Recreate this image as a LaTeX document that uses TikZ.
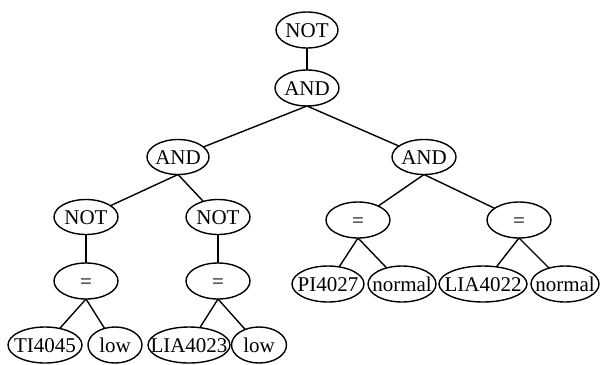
\documentclass[tikz,border=0pt]{standalone}
\usepackage{fontspec}
\setmainfont{Liberation Serif}
\usetikzlibrary{shapes.geometric}
% centre a label without letting it size the oval
\newcommand\ovaltext[1]{\makebox[0pt]{#1}}
\begin{document}
\begin{tikzpicture}[x=1pt,y=-1pt,
  oval/.style={draw, ellipse, line width=1.4pt, inner sep=0pt, outer sep=0pt,
    text height=14pt, text depth=0pt, minimum height=36pt,
    font=\fontsize{21}{21}\selectfont},
  link/.style={line width=1.4pt}]
\useasboundingbox (0,0) rectangle (601,364);

% operators
\node[oval, minimum width=62] (not0) at (307,30)  {\ovaltext{NOT}};
\node[oval, minimum width=64] (and0) at (307,88)  {\ovaltext{AND}};
\node[oval, minimum width=62, minimum height=35] (andL) at (178,157) {\ovaltext{AND}};
\node[oval, minimum width=64, minimum height=35] (andR) at (424,157) {\ovaltext{AND}};
\node[oval, minimum width=64, minimum height=35] (notL) at (86,217)  {\ovaltext{NOT}};
\node[oval, minimum width=64, minimum height=35] (notR) at (218,217) {\ovaltext{NOT}};
\node[oval, minimum width=64] (eqA) at (86,281)  {\ovaltext{=}};
\node[oval, minimum width=64] (eqB) at (218,281) {\ovaltext{=}};
\node[oval, minimum width=64] (eqC) at (358,220) {\ovaltext{=}};
\node[oval, minimum width=64] (eqD) at (519,220) {\ovaltext{=}};

% operands
\node[oval, minimum width=74] (ti)   at (45,345)  {\ovaltext{TI4045}};
\node[oval, minimum width=54] (lowA) at (115,345) {\ovaltext{low}};
\node[oval, minimum width=82] (lia3) at (189,345) {\ovaltext{LIA4023}};
\node[oval, minimum width=55] (lowB) at (259,345) {\ovaltext{low}};
\node[oval, minimum width=72] (pi)   at (328,284) {\ovaltext{PI4027}};
\node[oval, minimum width=68] (nmA)  at (402,284) {\ovaltext{normal}};
\node[oval, minimum width=88] (lia2) at (483,284) {\ovaltext{LIA4022}};
\node[oval, minimum width=68] (nmB)  at (565,284) {\ovaltext{normal}};

% tree edges: each leaves the bottom of its parent
\draw[link] (not0.south) -- (and0);
\draw[link] (and0.south) -- (andL);
\draw[link] (and0.south) -- (andR);
\draw[link] (andL.south) -- (notL);
\draw[link] (andL.south) -- (notR);
\draw[link] (andR.south) -- (eqC);
\draw[link] (andR.south) -- (eqD);
\draw[link] (notL.south) -- (eqA);
\draw[link] (notR.south) -- (eqB);
\draw[link] (eqA.south) -- (ti);
\draw[link] (eqA.south) -- (lowA);
\draw[link] (eqB.south) -- (lia3);
\draw[link] (eqB.south) -- (lowB);
\draw[link] (eqC.south) -- (pi);
\draw[link] (eqC.south) -- (nmA);
\draw[link] (eqD.south) -- (lia2);
\draw[link] (eqD.south) -- (nmB);
\end{tikzpicture}
\end{document}
